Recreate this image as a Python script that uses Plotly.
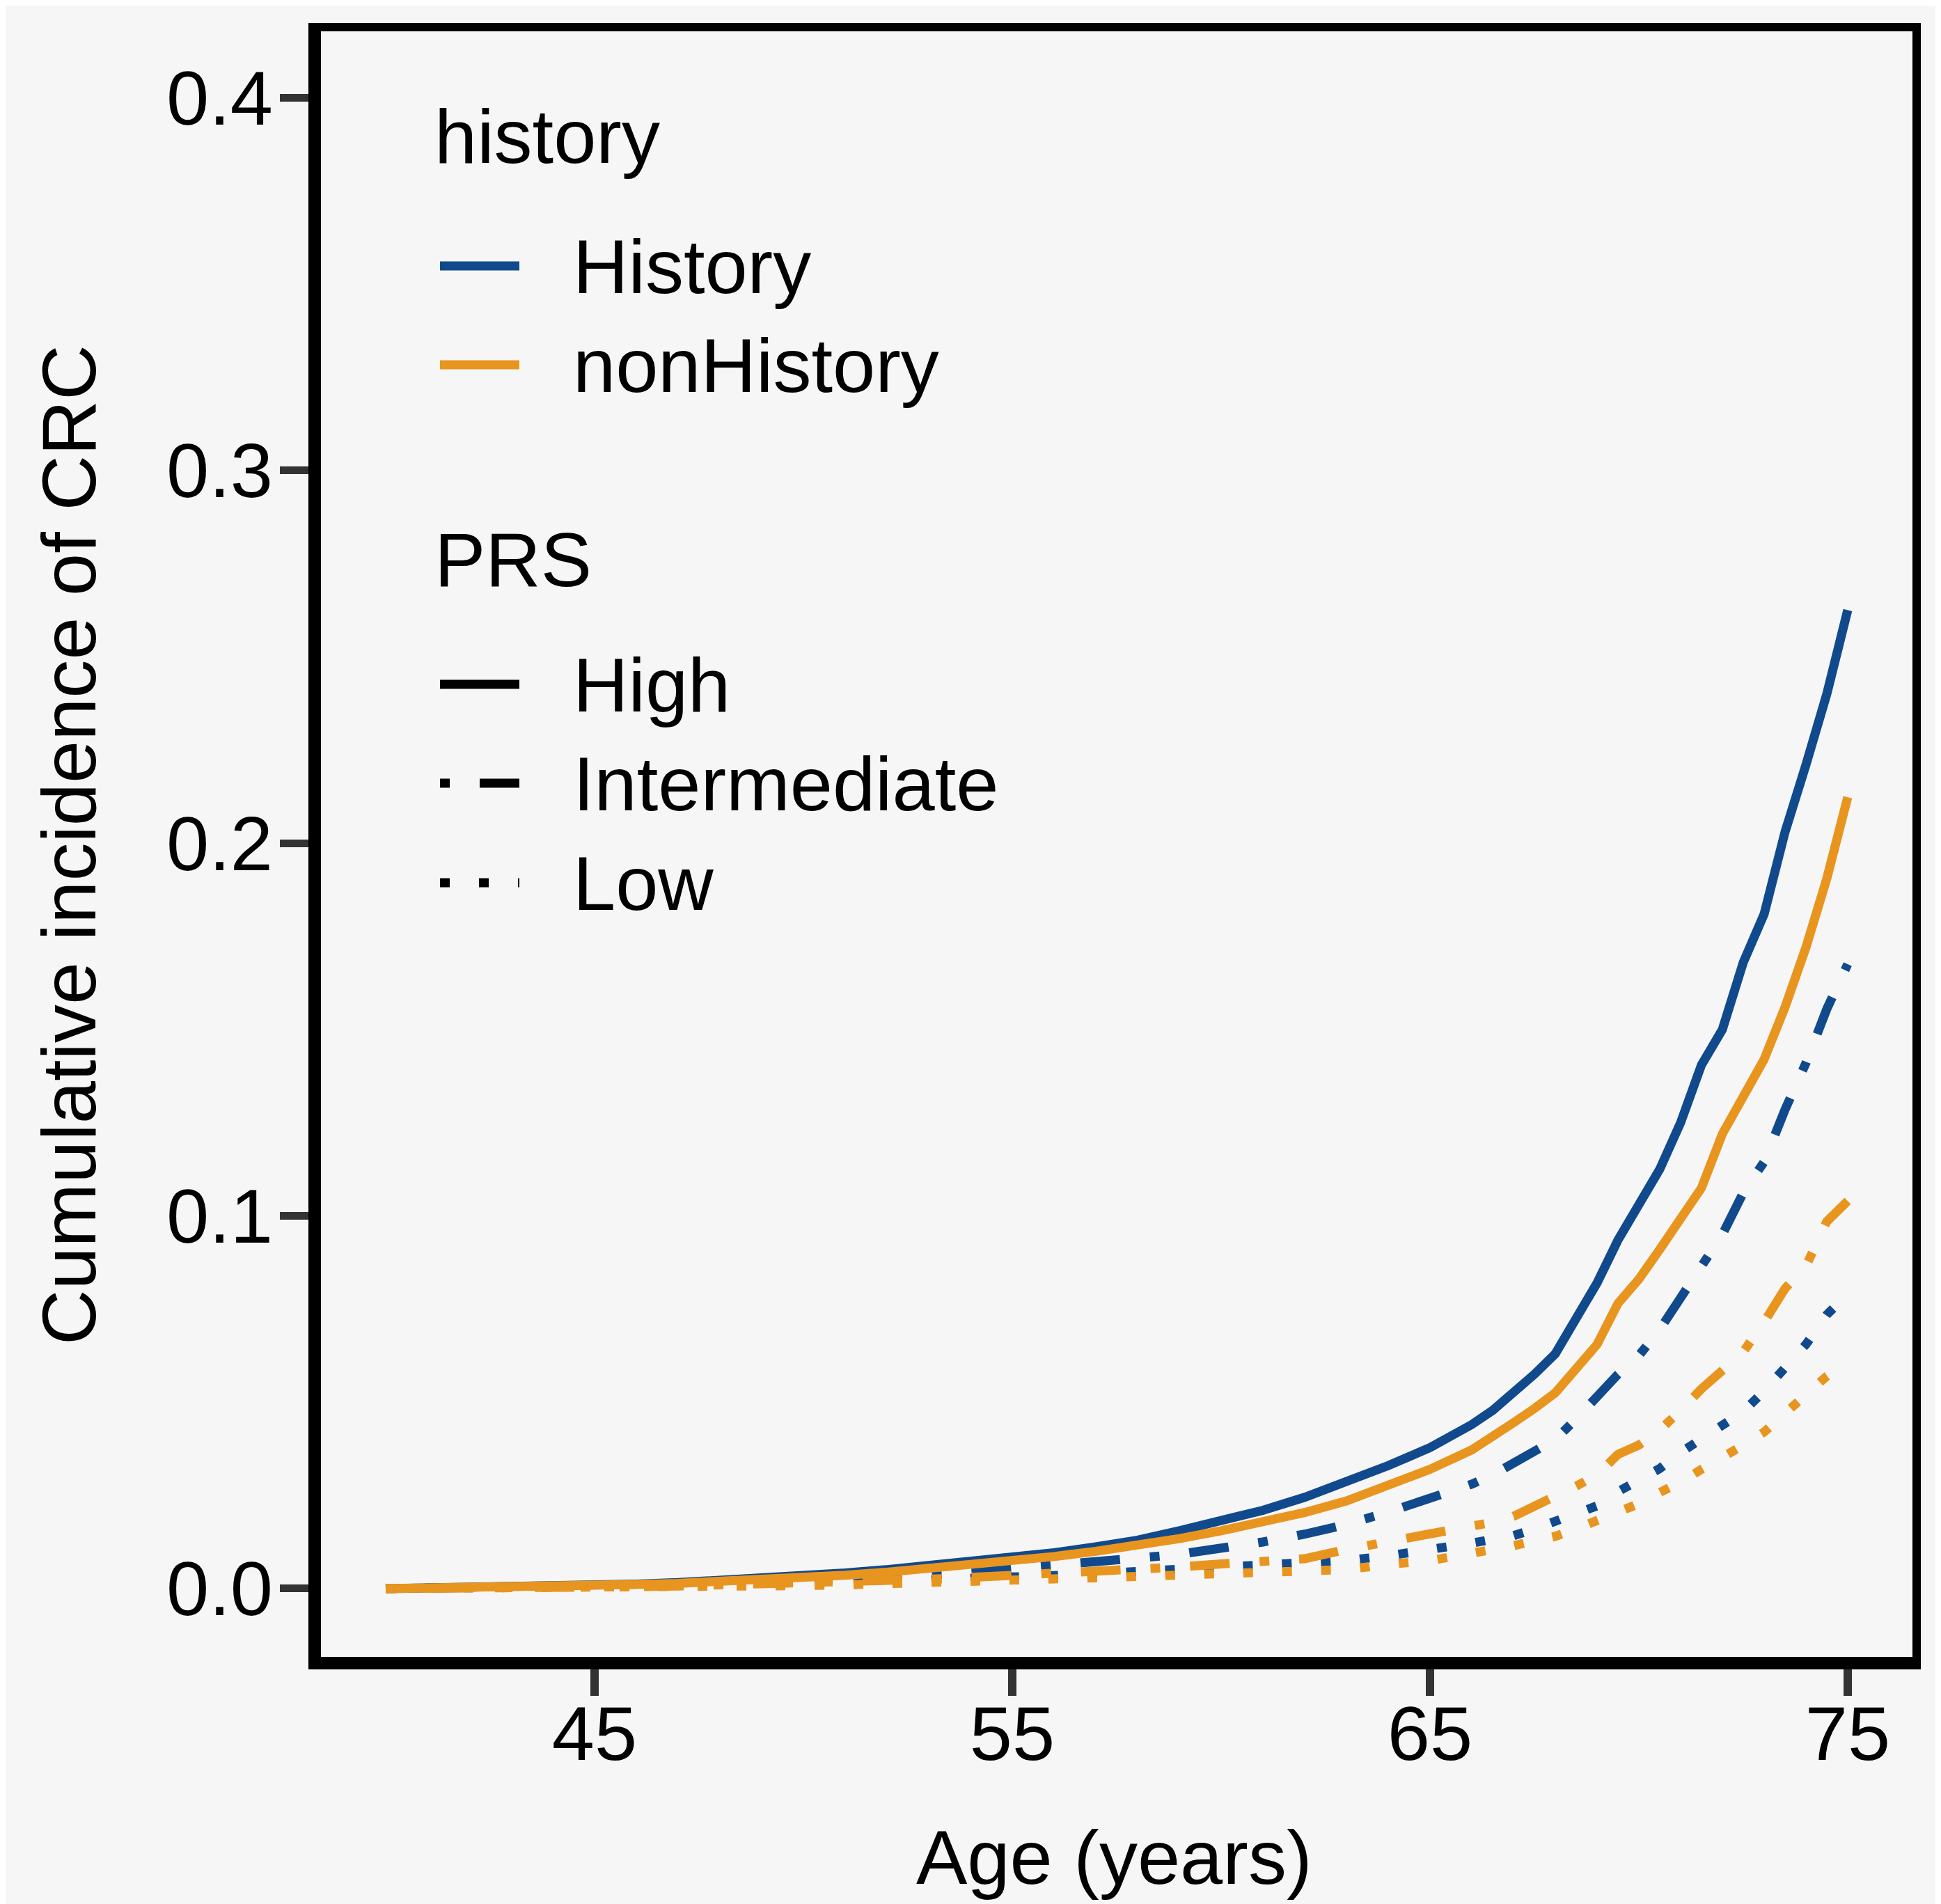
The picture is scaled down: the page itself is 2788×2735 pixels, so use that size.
import plotly.graph_objects as go

# ---------------- data ----------------
AGES = list(range(40, 67)) + [66.5, 67, 67.5, 68, 68.5, 69, 69.5, 70, 70.5,
                               71, 71.5, 72, 72.5, 73, 73.5, 74, 74.5, 75]

HISTORY_HIGH = [0, 0.0001, 0.0003, 0.0005, 0.0007, 0.0009, 0.0012, 0.0016, 0.0021, 0.0027,
                0.0034, 0.0042, 0.0051, 0.0061, 0.0071, 0.0082, 0.0096, 0.0112, 0.0130, 0.0155,
                0.0180, 0.0210, 0.0245, 0.0285, 0.0330, 0.0378, 0.0440,
                0.0478, 0.0525, 0.0575, 0.0630, 0.0725, 0.0820, 0.0935, 0.1025, 0.1125,
                0.1250, 0.1405, 0.1500, 0.1680, 0.1810, 0.2030, 0.2210, 0.2400, 0.2625]

NONHISTORY_HIGH = [0, 0.0001, 0.0002, 0.0004, 0.0006, 0.0008, 0.0011, 0.0014, 0.0018, 0.0023,
                   0.0029, 0.0036, 0.0044, 0.0053, 0.0063, 0.0074, 0.0086, 0.0100, 0.0116, 0.0134,
                   0.0155, 0.0178, 0.0204, 0.0235, 0.0275, 0.0320, 0.0372,
                   0.0405, 0.0445, 0.0483, 0.0525, 0.0590, 0.0655, 0.0765, 0.0830, 0.0910,
                   0.0990, 0.1075, 0.1220, 0.1320, 0.1420, 0.1560, 0.1720, 0.1905, 0.2123]

HISTORY_INTER = [0, 0.0001, 0.0002, 0.0003, 0.0004, 0.0005, 0.0007, 0.0009, 0.0012, 0.0015,
                 0.0019, 0.0024, 0.0030, 0.0037, 0.0044, 0.0052, 0.0061, 0.0071, 0.0082, 0.0092,
                 0.0107, 0.0125, 0.0146, 0.0172, 0.0205, 0.0240, 0.0280,
                 0.0305, 0.0335, 0.0365, 0.0400, 0.0455, 0.0515, 0.0575, 0.0625, 0.0695,
                 0.0780, 0.0865, 0.0950, 0.1062, 0.1145, 0.1285, 0.1410, 0.1555, 0.1675]

NONHISTORY_INTER = [0, 0.0000, 0.0001, 0.0002, 0.0003, 0.0004, 0.0005, 0.0007, 0.0009, 0.0011,
                    0.0014, 0.0017, 0.0021, 0.0025, 0.0030, 0.0035, 0.0038, 0.0043, 0.0050, 0.0058,
                    0.0066, 0.0072, 0.0080, 0.0105, 0.0126, 0.0146, 0.0165,
                    0.0178, 0.0194, 0.0220, 0.0248, 0.0275, 0.0305, 0.0360, 0.0385, 0.0425,
                    0.0478, 0.0536, 0.0585, 0.0635, 0.0715, 0.0805, 0.0865, 0.0985, 0.1040]

HISTORY_LOW = [0, 0.00005, 0.0001, 0.00015, 0.0002, 0.0003, 0.0004, 0.0006, 0.0008, 0.0010,
               0.0012, 0.0015, 0.0018, 0.0021, 0.0025, 0.0030, 0.0035, 0.0040, 0.0045, 0.0050,
               0.0055, 0.0060, 0.0066, 0.0075, 0.0088, 0.0102, 0.0122,
               0.0132, 0.0142, 0.0160, 0.0182, 0.0200, 0.0222, 0.0260, 0.0290, 0.0322,
               0.0365, 0.0400, 0.0438, 0.0475, 0.0530, 0.0595, 0.0655, 0.0735, 0.0790]

NONHISTORY_LOW = [0, 0.00003, 0.00006, 0.0001, 0.00015, 0.0002, 0.0003, 0.0004, 0.0005, 0.0006,
                  0.0008, 0.0010, 0.0012, 0.0015, 0.0018, 0.0022, 0.0026, 0.0029, 0.0032, 0.0035,
                  0.0038, 0.0042, 0.0046, 0.0051, 0.0065, 0.0075, 0.0095,
                  0.0103, 0.0115, 0.0128, 0.0140, 0.0160, 0.0181, 0.0205, 0.0228, 0.0258,
                  0.0285, 0.0320, 0.0350, 0.0385, 0.0420, 0.0470, 0.0520, 0.0570, 0.0610]

HISTORY_LEVELS = ["History", "nonHistory"]
PRS_LEVELS = ["High", "Intermediate", "Low"]
X_TICKS = [45, 55, 65, 75]
Y_TICKS = [0.0, 0.1, 0.2, 0.3, 0.4]

# ---------------- styles ----------------
COLORS = {"History": "#114A8C", "nonHistory": "#E8951F"}
DASHES = {"High": "solid",
          "Intermediate": "14px,43px,57px,43px",
          "Low": "14px,42px"}
LW = 13
FONT = "Liberation Sans, Arial, Helvetica, sans-serif"
BG = "#F6F6F6"

# page has an 8px body margin -> figure is 8px smaller, positions given in page px
OFF = 8
W, H = 2780, 2727
ML, MR, MT, MB = 444, 35, 31, 346
PW, PH = W - ML - MR, H - MT - MB


def px(x_page):
    return (x_page - OFF - ML) / PW


def py(y_page):
    return (H - MB - (y_page - OFF)) / PH


series = {
    ("History", "High"): HISTORY_HIGH,
    ("History", "Intermediate"): HISTORY_INTER,
    ("History", "Low"): HISTORY_LOW,
    ("nonHistory", "High"): NONHISTORY_HIGH,
    ("nonHistory", "Intermediate"): NONHISTORY_INTER,
    ("nonHistory", "Low"): NONHISTORY_LOW,
}

fig = go.Figure()
for h in HISTORY_LEVELS:
    for p in PRS_LEVELS:
        fig.add_trace(go.Scatter(
            x=AGES, y=series[(h, p)], mode="lines",
            name=f"{h} / {p}", showlegend=False,
            line=dict(color=COLORS[h], width=LW, dash=DASHES[p]),
        ))

shapes = []
annotations = []

# panel border (thin on top/right, axis lines thicker on left/bottom)
shapes.append(dict(type="rect", xref="paper", yref="paper", x0=0, x1=1, y0=0, y1=1,
                   line=dict(color="black", width=12), layer="above"))
shapes.append(dict(type="line", xref="paper", yref="paper", x0=0, x1=0, y0=py(2398), y1=py(33),
                   line=dict(color="black", width=18), layer="above"))
shapes.append(dict(type="line", xref="paper", yref="paper", x0=px(443), x1=px(2759), y0=0, y1=0,
                   line=dict(color="black", width=18), layer="above"))

# manual legend
KEY_X0, KEY_X1, TEXT_X, TITLE_X = 632, 746, 821, 622
LEG_FS = 110
annotations.append(dict(text="history", x=px(TITLE_X), y=py(196), xref="paper", yref="paper",
                        xanchor="left", yanchor="middle", showarrow=False,
                        font=dict(size=LEG_FS, color="black", family=FONT)))
for h, yk in zip(HISTORY_LEVELS, [382, 524]):
    shapes.append(dict(type="line", xref="paper", yref="paper", x0=px(KEY_X0), x1=px(KEY_X1),
                       y0=py(yk), y1=py(yk), line=dict(color=COLORS[h], width=LW)))
    annotations.append(dict(text=h, x=px(TEXT_X), y=py(yk), xref="paper", yref="paper",
                            xanchor="left", yanchor="middle", showarrow=False,
                            font=dict(size=LEG_FS, color="black", family=FONT)))
annotations.append(dict(text="PRS", x=px(TITLE_X), y=py(804), xref="paper", yref="paper",
                        xanchor="left", yanchor="middle", showarrow=False,
                        font=dict(size=LEG_FS, color="black", family=FONT)))
for p, yk in zip(PRS_LEVELS, [983, 1125, 1268]):
    shapes.append(dict(type="line", xref="paper", yref="paper", x0=px(KEY_X0), x1=px(KEY_X1),
                       y0=py(yk), y1=py(yk), line=dict(color="black", width=LW, dash=DASHES[p])))
    annotations.append(dict(text=p, x=px(TEXT_X), y=py(yk), xref="paper", yref="paper",
                            xanchor="left", yanchor="middle", showarrow=False,
                            font=dict(size=LEG_FS, color="black", family=FONT)))

# axis titles
annotations.append(dict(text="Age (years)", x=px(1600), y=py(2667), xref="paper", yref="paper",
                        xanchor="center", yanchor="middle", showarrow=False,
                        font=dict(size=110, color="black", family=FONT)))
annotations.append(dict(text="Cumulative incidence of CRC", x=px(98), y=py(1214),
                        xref="paper", yref="paper", textangle=-90,
                        xanchor="center", yanchor="middle", showarrow=False,
                        font=dict(size=110, color="black", family=FONT)))

fig.update_layout(
    width=W, height=H,
    margin=dict(l=ML, r=MR, t=MT, b=MB, autoexpand=False),
    paper_bgcolor=BG, plot_bgcolor=BG,
    font=dict(family=FONT, color="black"),
    shapes=shapes, annotations=annotations,
    showlegend=False,
)
fig.update_xaxes(range=[38.3, 76.65], tickvals=X_TICKS, ticktext=[str(v) for v in X_TICKS],
                 ticks="outside", ticklen=46, tickwidth=12, tickcolor="#333333",
                 ticklabelstandoff=-40,
                 showgrid=False, zeroline=False, showline=False,
                 tickfont=dict(size=110, color="black", family=FONT))
fig.update_yaxes(range=[-0.02, 0.4189], tickvals=Y_TICKS, ticktext=[f"{v:.1f}" for v in Y_TICKS],
                 ticks="outside", ticklen=49, tickwidth=11, tickcolor="#333333",
                 ticklabelstandoff=-12,
                 showgrid=False, zeroline=False, showline=False,
                 tickfont=dict(size=110, color="black", family=FONT))

fig.write_html("out.html")
